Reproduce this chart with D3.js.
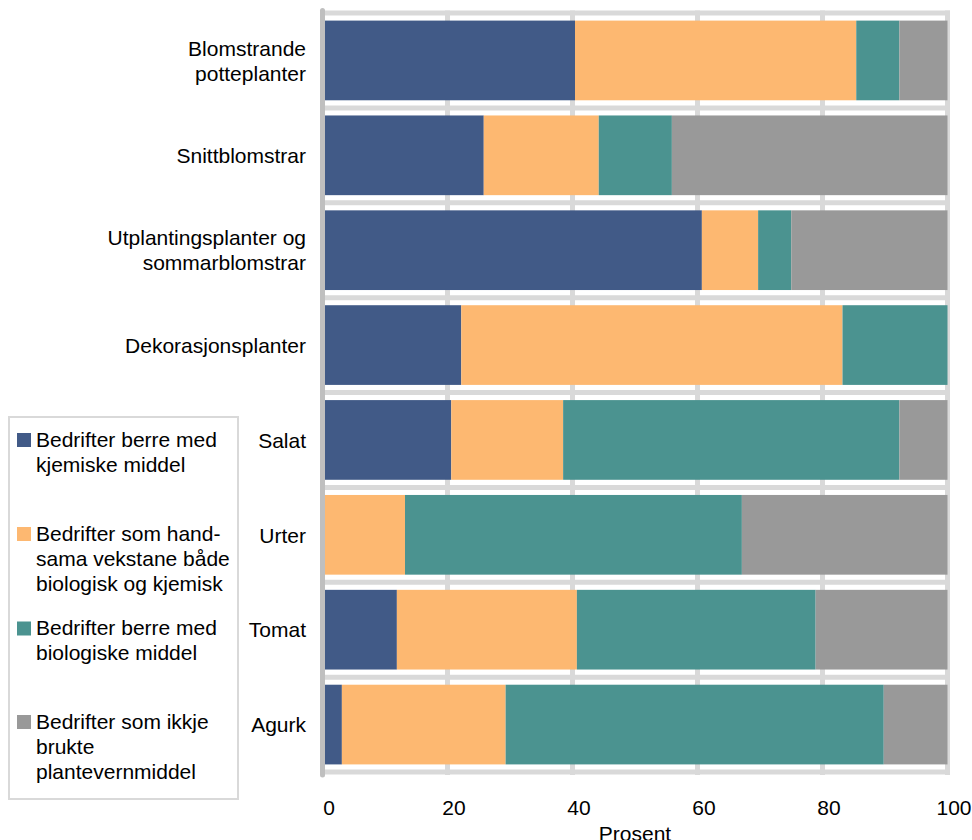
<!DOCTYPE html>
<html><head><meta charset="utf-8">
<script src="https://cdn.jsdelivr.net/npm/d3@7"></script>
<style>html,body{margin:0;padding:0;background:#fff;}svg{display:block;}</style>
</head><body>
<svg id="c" width="972" height="840"></svg>
<script>
const categories = ["Blomstrande potteplanter","Snittblomstrar","Utplantingsplanter og sommarblomstrar","Dekorasjonsplanter","Salat","Urter","Tomat","Agurk"];
const categoryLines = [["Blomstrande","potteplanter"],["Snittblomstrar"],["Utplantingsplanter og","sommarblomstrar"],["Dekorasjonsplanter"],["Salat"],["Urter"],["Tomat"],["Agurk"]];
const seriesNames = ["Bedrifter berre med kjemiske middel","Bedrifter som handsama vekstane både biologisk og kjemisk","Bedrifter berre med biologiske middel","Bedrifter som ikkje brukte plantevernmiddel"];
const legendLines = [["Bedrifter berre med","kjemiske middel"],["Bedrifter som hand-","sama vekstane både","biologisk og kjemisk"],["Bedrifter berre med","biologiske middel"],["Bedrifter som ikkje","brukte","plantevernmiddel"]];
const kjemisk   = [40.4, 25.8, 60.7, 22.2, 20.6, 0.0, 11.9, 3.1];
const begge     = [45.0, 18.4,  9.0, 61.0, 17.9, 13.2, 28.8, 26.2];
const biologisk = [ 6.9, 11.7,  5.3, 16.8, 53.8, 53.9, 38.2, 60.5];
const ingen     = [ 7.7, 44.1, 25.0,  0.0,  7.7, 32.9, 21.1, 10.2];
const xTicks = [0, 20, 40, 60, 80, 100];
const axisTitle = "Prosent";
const colors = ["#415a87", "#fdb871", "#4b9390", "#999999"];

const svg = d3.select("#c");
const FONT = "'Liberation Sans', Arial, sans-serif";
const FS = 21;
const x = d3.scaleLinear().domain([0, 100]).range([322.5, 947.5]);
const y = d3.scaleBand().domain(categories).range([13, 772]).paddingInner(0.16).paddingOuter(0.08);
const bandY = d3.scaleBand().domain(categories).range([13, 772]);

const series = [kjemisk, begge, biologisk, ingen];
const rows = categories.map((c, i) => {
  const o = {cat: c};
  series.forEach((s, k) => o["s" + k] = s[i]);
  return o;
});
const stack = d3.stack().keys(["s0","s1","s2","s3"])(rows);

// gridlines
const grid = svg.append("g");
xTicks.forEach(t => {
  if (t === 0) return;
  grid.append("line").attr("x1", x(t)).attr("x2", x(t)).attr("y1", 10.5).attr("y2", 775)
    .attr("stroke", "#d9d9d9").attr("stroke-width", 5);
});
categories.forEach((c, i) => {
  grid.append("line").attr("x1", 322).attr("x2", 950).attr("y1", bandY(c)).attr("y2", bandY(c))
    .attr("stroke", "#d9d9d9").attr("stroke-width", 5);
});
grid.append("line").attr("x1", 322).attr("x2", 950).attr("y1", bandY.range()[1]).attr("y2", bandY.range()[1])
  .attr("stroke", "#d9d9d9").attr("stroke-width", 5);

// bars
svg.append("g").selectAll("g").data(stack).join("g")
  .attr("fill", (d, k) => colors[k])
  .selectAll("rect").data(d => d).join("rect")
  .attr("x", d => x(d[0]))
  .attr("width", d => Math.max(0, x(d[1]) - x(d[0])))
  .attr("y", d => y(d.data.cat))
  .attr("height", y.bandwidth());

// left axis line
svg.append("line").attr("x1", x(0)).attr("x2", x(0)).attr("y1", 10.5).attr("y2", 775)
  .attr("stroke", "#bfbfbf").attr("stroke-width", 5).attr("stroke-linecap", "round");

// x tick labels
const xAxis = d3.axisBottom(x).tickValues(xTicks).tickSize(0).tickFormat(d3.format("d"));
const gx = svg.append("g").attr("transform", "translate(6,797)").call(xAxis);
gx.select(".domain").remove();
gx.selectAll("text").attr("font-family", FONT).attr("font-size", FS).attr("fill", "#000").attr("dy", "0.71em");

svg.append("text").attr("x", (x(0) + x(100)) / 2).attr("y", 841).attr("text-anchor", "middle")
  .attr("font-family", FONT).attr("font-size", FS).attr("fill", "#000").text(axisTitle);

// category labels
categoryLines.forEach((lines, i) => {
  const cy = bandY(categories[i]) + bandY.bandwidth() / 2;
  const n = lines.length;
  lines.forEach((ln, j) => {
    svg.append("text").attr("x", 306).attr("y", cy + (j - (n - 1) / 2) * 25 + 7.8)
      .attr("text-anchor", "end").attr("font-family", FONT).attr("font-size", FS).attr("fill", "#000").text(ln);
  });
});

// legend
svg.append("rect").attr("x", 9).attr("y", 417).attr("width", 229).attr("height", 382)
  .attr("fill", "#fff").attr("stroke", "#d9d9d9").attr("stroke-width", 2);
const legTop = [446.5, 540.5, 635, 728.5];
legendLines.forEach((lines, k) => {
  svg.append("rect").attr("x", 17).attr("y", legTop[k] - 13.5).attr("width", 14).attr("height", 14)
    .attr("fill", colors[k]);
  lines.forEach((ln, j) => {
    svg.append("text").attr("x", 36).attr("y", legTop[k] + j * 25)
      .attr("font-family", FONT).attr("font-size", FS).attr("fill", "#000").text(ln);
  });
});
</script>
</body></html>
